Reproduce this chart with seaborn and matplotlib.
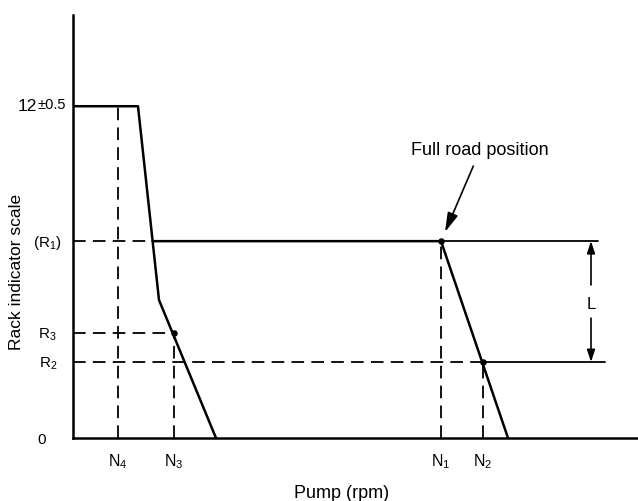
import matplotlib
matplotlib.use("Agg")
import matplotlib.pyplot as plt
import seaborn as sns
import pandas as pd

# Rack position (indicator scale) and pump speed levels
RACK_MAX = 12.0
R1 = 7.12
R3 = 3.79
R2 = 2.75

N4 = 4.5
N3 = 10.1
N1 = 36.8
N2 = 41.0

# Governor characteristic: idle / start branch and full-load cut-off branch
left_speed = [0.0, 6.5, 8.6, 14.3]
left_rack = [RACK_MAX, RACK_MAX, 4.99, 0.0]
full_load_speed = [7.96, N1, 43.5]
full_load_rack = [R1, R1, 0.0]

y_ticks = [0, R2, R3, R1]
y_labels = ["0", r"$\mathregular{R_2}$", r"$\mathregular{R_3}$",
            r"$\mathregular{(R_1)}$"]
x_ticks = [N4, N3, N1, N2]
x_labels = [r"$\mathregular{N_4}$", r"$\mathregular{N_3}$",
            r"$\mathregular{N_1}$", r"$\mathregular{N_2}$"]

sns.set_theme(style="white")
plt.rcParams["font.family"] = ["Liberation Sans", "DejaVu Sans"]
plt.rcParams["mathtext.fontset"] = "custom"
plt.rcParams["mathtext.rm"] = "Liberation Sans"

W, H = 638, 501
AX_L, AX_R, AX_B, AX_T = 73, 638, 438, 15
fig = plt.figure(figsize=(W / 100, H / 100), dpi=100)
ax = fig.add_axes([AX_L / W, (H - AX_B) / H, (AX_R - AX_L) / W, (AX_B - AX_T) / H])

XMAX = 56.5
YMAX = 15.3
ax.set_xlim(0, XMAX)
ax.set_ylim(0, YMAX)

ink = "black"
curve_lw = 1.8

left_df = pd.DataFrame({"speed": left_speed, "rack": left_rack})
full_df = pd.DataFrame({"speed": full_load_speed, "rack": full_load_rack})
sns.lineplot(data=left_df, x="speed", y="rack", sort=False, ax=ax,
             color=ink, lw=curve_lw, estimator=None)
sns.lineplot(data=full_df, x="speed", y="rack", sort=False, ax=ax,
             color=ink, lw=curve_lw, estimator=None)

# Solid reference lines bounding the L dimension
ax.plot([N1, 52.5], [R1, R1], color=ink, lw=1.3)
ax.plot([N2, 53.2], [R2, R2], color=ink, lw=1.3)

# Dashed construction lines
dash = dict(color=ink, lw=1.3, ls=(0, (7, 4)))
ax.plot([0, 7.96], [R1, R1], **dash)
ax.plot([0, N3], [R3, R3], **dash)
ax.plot([0, N2], [R2, R2], **dash)
ax.plot([N4, N4], [0, RACK_MAX], **dash)
ax.plot([N3, N3], [0, R3], **dash)
ax.plot([N1, N1], [0, R1], **dash)
ax.plot([N2, N2], [0, R2], **dash)

# Marked operating points
pts = pd.DataFrame({"speed": [N1, N3, N2], "rack": [R1, R3, R2]})
sns.scatterplot(data=pts, x="speed", y="rack", ax=ax, color=ink, s=22,
                edgecolor=ink, linewidth=0, zorder=5)

# Dimension L between R1 and R2
xL = 51.8
mid = (R1 + R2) / 2
ax.annotate("", xy=(xL, R1), xytext=(xL, mid + 0.6),
            arrowprops=dict(arrowstyle="-|>,head_length=0.6,head_width=0.2",
                            color=ink, lw=1.2, shrinkA=0, shrinkB=0))
ax.annotate("", xy=(xL, R2), xytext=(xL, mid - 0.6),
            arrowprops=dict(arrowstyle="-|>,head_length=0.6,head_width=0.2",
                            color=ink, lw=1.2, shrinkA=0, shrinkB=0))
ax.text(xL, mid - 0.1, "L", ha="center", va="center", fontsize=12, color=ink)

# Full load label
ax.annotate("Full road position", xy=(37.2, 7.45), xytext=(40.7, 10.4),
            ha="center", va="center", fontsize=13, color=ink,
            arrowprops=dict(arrowstyle="-|>,head_length=0.9,head_width=0.25",
                            color=ink, lw=1.2, shrinkA=3, shrinkB=0))

# Y tick labels, each set at its own distance from the axis
ax.set_yticks(y_ticks + [RACK_MAX])
ax.set_yticklabels([])
ytrans = ax.get_yaxis_transform()
label_right_px = [46, 57, 57, 62]
for val, lab, px in zip(y_ticks, y_labels, label_right_px):
    ax.text((px - AX_L) / (AX_R - AX_L), val - 0.06, lab, transform=ytrans,
            ha="right", va="center", fontsize=11, color=ink, clip_on=False)
# Rack limit: nominal value with its tolerance
ax.text((37 - AX_L) / (AX_R - AX_L), RACK_MAX, "12", transform=ytrans,
        ha="right", va="center", fontsize=12.5, color=ink, clip_on=False)
ax.text((37 - AX_L) / (AX_R - AX_L), RACK_MAX + 0.04, "±0.5", transform=ytrans,
        ha="left", va="center", fontsize=10.5, color=ink, clip_on=False)

ax.set_xticks(x_ticks)
ax.set_xticklabels(x_labels, fontsize=11.5)
ax.tick_params(axis="y", length=0, colors=ink)
ax.tick_params(axis="x", length=0, pad=10, colors=ink)

ax.set_xlabel("Pump (rpm)", fontsize=13, color=ink)
ax.set_ylabel("Rack indicator scale", fontsize=12.5, color=ink)
ax.xaxis.label.set_va("center")
ax.yaxis.label.set_va("center")
ax.xaxis.set_label_coords((342 - AX_L) / (AX_R - AX_L), (AX_B - 493) / (AX_B - AX_T))
ax.yaxis.set_label_coords((17 - AX_L) / (AX_R - AX_L), (AX_B - 272) / (AX_B - AX_T))

for side in ("top", "right"):
    ax.spines[side].set_visible(False)
for side in ("left", "bottom"):
    ax.spines[side].set_color(ink)
    ax.spines[side].set_linewidth(1.8)

fig.savefig("out.png", dpi=100, facecolor="white")
